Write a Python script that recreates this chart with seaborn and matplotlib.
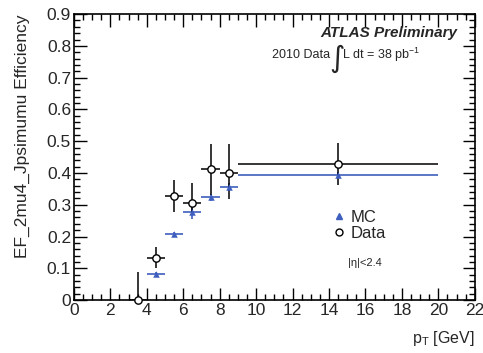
import matplotlib
matplotlib.use("Agg")
import matplotlib.pyplot as plt
import seaborn as sns
import pandas as pd
from matplotlib.lines import Line2D
from matplotlib.ticker import MultipleLocator

# datos
pt_centro = [3.5, 4.5, 5.5, 6.5, 7.5, 8.5, 14.5]
pt_ancho = [0.5, 0.5, 0.5, 0.5, 0.5, 0.5, 5.5]

data_eff = [0.0, 0.133, 0.327, 0.307, 0.412, 0.401, 0.427]
data_err_bajo = [0.0, 0.033, 0.049, 0.033, 0.082, 0.084, 0.065]
data_err_alto = [0.089, 0.035, 0.050, 0.060, 0.078, 0.089, 0.066]

mc_pt = [4.5, 5.5, 6.5, 7.5, 8.5, 14.5]
mc_ancho = [0.5, 0.5, 0.5, 0.5, 0.5, 5.5]
mc_eff = [0.083, 0.207, 0.276, 0.323, 0.356, 0.395]
mc_err = [0.006, 0.006, 0.022, 0.010, 0.012, 0.008]

AZUL = "#3f5fbf"

sns.set_theme(style="ticks")
plt.rcParams["font.family"] = ["Liberation Sans", "DejaVu Sans"]

fig = plt.figure(figsize=(4.83, 3.53), dpi=100)
ax = fig.add_axes([0.153, 0.150, 0.830, 0.810])

df_mc = pd.DataFrame({"pt": mc_pt, "eff": mc_eff})
df_data = pd.DataFrame({"pt": pt_centro, "eff": data_eff})

ax.errorbar(mc_pt, mc_eff, xerr=mc_ancho, yerr=mc_err, fmt="none",
            ecolor=AZUL, elinewidth=1.2, capsize=0, zorder=2)
ax.errorbar(pt_centro, data_eff, xerr=pt_ancho,
            yerr=[data_err_bajo, data_err_alto], fmt="none",
            ecolor="black", elinewidth=1.1, capsize=0, zorder=3)
sns.scatterplot(data=df_mc, x="pt", y="eff", marker="^", color=AZUL,
                s=22, linewidth=0, ax=ax, zorder=4)
sns.scatterplot(data=df_data, x="pt", y="eff", marker="o", facecolor="white",
                edgecolor="black", s=28, linewidth=1.0, ax=ax, zorder=5,
                clip_on=False)

ax.set_xlim(0, 22)
ax.set_ylim(0, 0.9)
ax.xaxis.set_major_locator(MultipleLocator(2))
ax.xaxis.set_minor_locator(MultipleLocator(0.5))
ax.yaxis.set_minor_locator(MultipleLocator(0.02))
ax.set_yticks([0, 0.1, 0.2, 0.3, 0.4, 0.5, 0.6, 0.7, 0.8, 0.9])
ax.set_yticklabels(["0", "0.1", "0.2", "0.3", "0.4", "0.5", "0.6", "0.7", "0.8", "0.9"])
ax.tick_params(which="both", direction="in", top=True, right=True,
               labelsize=12.5, pad=2, width=1, color="black")
ax.tick_params(which="major", length=9)
ax.tick_params(which="minor", length=4.5)
for sp in ax.spines.values():
    sp.set_linewidth(1.2)
    sp.set_color("black")

ax.set_xlabel(r"p$_\mathregular{T}$ [GeV]", fontsize=11.5, loc="right", labelpad=8)
ax.set_ylabel("EF_2mu4_Jpsimumu Efficiency", fontsize=12.5, loc="top", labelpad=12)

ax.text(0.785, 0.934, "ATLAS Preliminary", transform=ax.transAxes,
        fontsize=11, fontweight="bold", fontstyle="italic", ha="center", va="center")
ax.text(0.640, 0.857, "2010 Data", transform=ax.transAxes,
        fontsize=9, ha="right", va="center")
ax.text(0.656, 0.845, r"$\int$", transform=ax.transAxes,
        fontsize=15, ha="center", va="center")
ax.text(0.670, 0.857, r"L dt = 38 pb$^{\mathregular{-1}}$", transform=ax.transAxes,
        fontsize=9, ha="left", va="center")

manejadores = [
    Line2D([], [], marker="^", color=AZUL, linestyle="none", markersize=4),
    Line2D([], [], marker="o", markerfacecolor="white", markeredgecolor="black",
           linestyle="none", markersize=5),
]
ax.legend(manejadores, ["MC", "Data"], loc="upper left",
          bbox_to_anchor=(0.628, 0.345), frameon=False, fontsize=12,
          handlelength=0.6, handletextpad=0.4, labelspacing=0.05, borderpad=0)
ax.text(0.683, 0.13, "|η|<2.4", transform=ax.transAxes, fontsize=8, ha="left", va="center")

fig.savefig("out.png", dpi=100)
